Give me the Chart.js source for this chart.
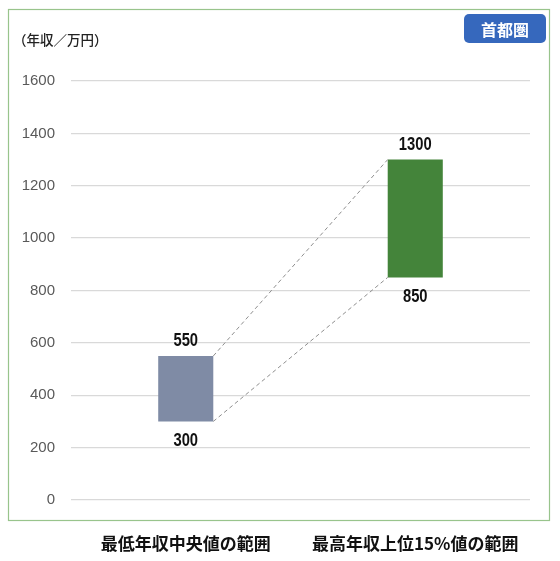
<!DOCTYPE html>
<html>
<head>
<meta charset="utf-8">
<script src="https://cdn.jsdelivr.net/npm/chart.js@4"></script>
<style>
  html, body { margin: 0; padding: 0; background: #fff; }
  #wrap { position: relative; width: 560px; height: 561px; }
</style>
</head>
<body>
<div id="wrap"><canvas id="incomeChart" width="560" height="561"></canvas></div>
<script>
var categories = ['最低年収中央値の範囲', '最高年収上位15%値の範囲'];
var lowValues = [300, 850];
var highValues = [550, 1300];
var barColors = ['#7f8ba5', '#44843a'];
var yTicks = [0, 200, 400, 600, 800, 1000, 1200, 1400, 1600];
var unitLabel = '（年収／万円）';
var regionLabel = '首都圏';

var jpFont = '"Noto Sans CJK JP", "Liberation Sans", sans-serif';
var numFont = '"Liberation Sans", sans-serif';

// frame, unit label and region badge
var framePlugin = {
  id: 'frame',
  beforeDraw: function(chart) {
    var ctx = chart.ctx;
    ctx.save();
    ctx.fillStyle = '#fff';
    ctx.fillRect(0, 0, chart.width, chart.height);
    ctx.strokeStyle = '#98c48c';
    ctx.lineWidth = 1.2;
    ctx.strokeRect(8.5, 9.5, 541, 511);
    ctx.restore();
  },
  afterDraw: function(chart) {
    var ctx = chart.ctx;
    ctx.save();
    ctx.fillStyle = '#222';
    ctx.font = '500 13.5px ' + jpFont;
    ctx.textBaseline = 'middle';
    ctx.textAlign = 'left';
    ctx.fillText(unitLabel, 13, 40);

    // badge
    var bx = 464, by = 14, bw = 82, bh = 29, r = 5;
    ctx.fillStyle = '#3668bd';
    ctx.beginPath();
    ctx.moveTo(bx + r, by);
    ctx.arcTo(bx + bw, by, bx + bw, by + bh, r);
    ctx.arcTo(bx + bw, by + bh, bx, by + bh, r);
    ctx.arcTo(bx, by + bh, bx, by, r);
    ctx.arcTo(bx, by, bx + bw, by, r);
    ctx.closePath();
    ctx.fill();
    ctx.fillStyle = '#fff';
    ctx.font = 'bold 16px ' + jpFont;
    ctx.textAlign = 'center';
    ctx.fillText(regionLabel, bx + bw / 2, by + bh / 2 + 1);
    ctx.restore();
  }
};

// narrow bold numbers, squeezed horizontally
function drawNarrow(ctx, text, x, y) {
  ctx.save();
  ctx.translate(x, y);
  ctx.scale(0.82, 1);
  ctx.fillText(text, 0, 0);
  ctx.restore();
}

// dashed connectors between bars and the value labels
var barLabelPlugin = {
  id: 'barLabels',
  afterDatasetsDraw: function(chart) {
    var ctx = chart.ctx;
    var bars = chart.getDatasetMeta(0).data;
    ctx.save();
    ctx.strokeStyle = '#8f8f8f';
    ctx.lineWidth = 1;
    ctx.setLineDash([4, 3]);
    for (var i = 0; i < bars.length - 1; i++) {
      var a = bars[i], b = bars[i + 1];
      var ax = a.x + a.width / 2, bx = b.x - b.width / 2;
      ctx.beginPath();
      ctx.moveTo(ax, a.y);
      ctx.lineTo(bx, b.y);
      ctx.moveTo(ax, a.base);
      ctx.lineTo(bx, b.base);
      ctx.stroke();
    }
    ctx.setLineDash([]);
    ctx.fillStyle = '#111';
    ctx.font = 'bold 18px ' + numFont;
    ctx.textAlign = 'center';
    bars.forEach(function(bar, i) {
      ctx.textBaseline = 'bottom';
      drawNarrow(ctx, String(highValues[i]), bar.x, bar.y - 6);
      ctx.textBaseline = 'top';
      drawNarrow(ctx, String(lowValues[i]), bar.x, bar.base + 11);
    });
    ctx.restore();
  }
};

var ctx = document.getElementById('incomeChart');
var incomeChart = new Chart(ctx, {
  type: 'bar',
  data: {
    labels: categories,
    datasets: [{
      data: categories.map(function(c, i) { return [lowValues[i], highValues[i]]; }),
      backgroundColor: barColors,
      borderWidth: 0,
      barPercentage: 0.48,
      categoryPercentage: 0.5
    }]
  },
  options: {
    responsive: false,
    animation: false,
    devicePixelRatio: 1,
    layout: { padding: { left: 8, right: 30, top: 81, bottom: 0 } },
    plugins: {
      legend: { display: false },
      tooltip: { enabled: false }
    },
    scales: {
      x: {
        afterFit: function(scale) { scale.height = 61; },
        grid: { display: false, drawTicks: false },
        border: { display: false },
        ticks: {
          padding: 33,
          color: '#111',
          font: { family: jpFont, size: 17, weight: 'bold' }
        }
      },
      y: {
        min: 0,
        max: 1600,
        afterFit: function(scale) { scale.width = 63; },
        afterBuildTicks: function(scale) {
          scale.ticks = yTicks.map(function(v) { return { value: v }; });
        },
        grid: { color: '#d9d9d9', lineWidth: 1.3, drawTicks: false },
        border: { display: false },
        ticks: {
          padding: 16,
          color: '#595959',
          font: { family: '"Liberation Sans", sans-serif', size: 15 },
          callback: function(v) { return String(v); }
        }
      }
    }
  },
  plugins: [framePlugin, barLabelPlugin]
});
</script>
</body>
</html>
